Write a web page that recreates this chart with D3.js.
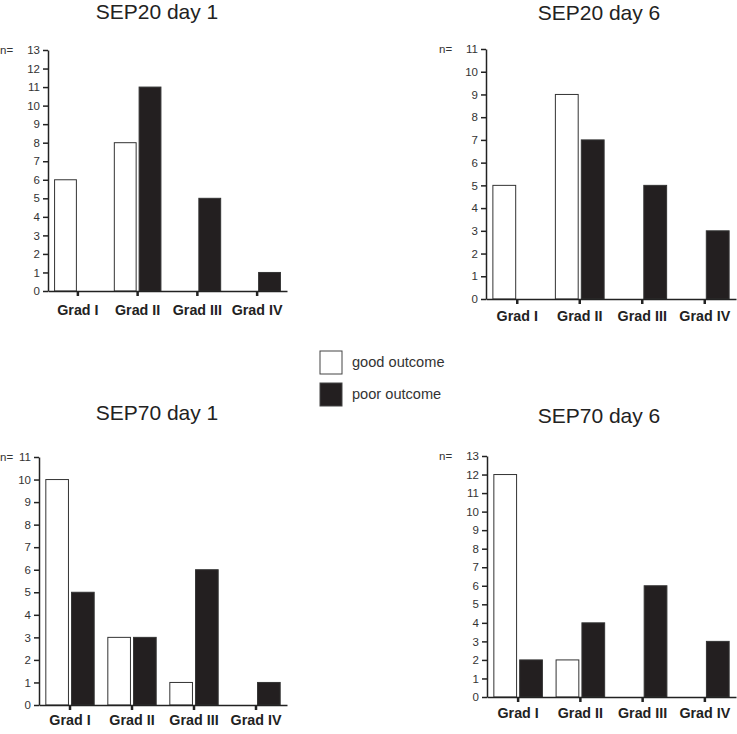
<!DOCTYPE html>
<html>
<head>
<meta charset="utf-8">
<script src="https://cdn.jsdelivr.net/npm/d3@7"></script>
<style>
  body { margin: 0; background: #fff; }
  text { font-family: "Liberation Sans", Arial, sans-serif; }
</style>
</head>
<body>
<svg id="chart" width="737" height="734"></svg>
<script>
// categories and series
var grades = ['Grad I', 'Grad II', 'Grad III', 'Grad IV'];
var seriesNames = ['good outcome', 'poor outcome'];

var titles = ['SEP20 day 1', 'SEP20 day 6', 'SEP70 day 1', 'SEP70 day 6'];
var yMax = [13, 11, 11, 13];

// n per grade, good / poor outcome
var sep20d1Good = [6, 8, 0, 0];
var sep20d1Poor = [0, 11, 5, 1];
var sep20d6Good = [5, 9, 0, 0];
var sep20d6Poor = [0, 7, 5, 3];
var sep70d1Good = [10, 3, 1, 0];
var sep70d1Poor = [5, 3, 6, 1];
var sep70d6Good = [12, 2, 0, 0];
var sep70d6Poor = [2, 4, 6, 3];

var goodSets = [sep20d1Good, sep20d6Good, sep70d1Good, sep70d6Good];
var poorSets = [sep20d1Poor, sep20d6Poor, sep70d1Poor, sep70d6Poor];

// where each panel sits on the page
var panels = [
  { ax: 48,  x1: 287, y0: 291, yt: 50,  tx: 157, ty: 19,  nx: 0,   lab: 315 },
  { ax: 486, x1: 736, y0: 299, yt: 49,  tx: 599, ty: 20,  nx: 439, lab: 321 },
  { ax: 39,  x1: 287, y0: 705, yt: 457, tx: 157, ty: 420, nx: 0,   lab: 725 },
  { ax: 487, x1: 736, y0: 697, yt: 456, tx: 599, ty: 423, nx: 439, lab: 718 }
];

var fills = { 'good outcome': '#ffffff', 'poor outcome': '#231f20' };

var svg = d3.select('#chart');

panels.forEach(function(p, k) {
  var g = svg.append('g');

  var x = d3.scaleBand().domain(grades).range([p.ax, p.x1]);
  var bw = x.bandwidth();
  var xs = d3.scaleBand().domain(seriesNames)
    .range([bw * 0.11, bw * 0.89]).paddingInner(0.12);
  var y = d3.scaleLinear().domain([0, yMax[k]]).range([p.y0, p.yt]);

  var rows = grades.map(function(gr, i) {
    return { grade: gr, vals: [
      { s: seriesNames[0], v: goodSets[k][i] },
      { s: seriesNames[1], v: poorSets[k][i] }
    ] };
  });

  // bars
  g.selectAll('g.grp').data(rows).enter().append('g')
    .attr('transform', function(d) { return 'translate(' + x(d.grade) + ',0)'; })
    .selectAll('rect').data(function(d) { return d.vals; }).enter().append('rect')
    .attr('x', function(d) { return xs(d.s); })
    .attr('width', xs.bandwidth())
    .attr('y', function(d) { return y(d.v); })
    .attr('height', function(d) { return y(0) - y(d.v); })
    .attr('fill', function(d) { return fills[d.s]; })
    .attr('stroke', '#333')
    .attr('stroke-width', 1);

  // y axis
  var ya = g.append('g')
    .attr('transform', 'translate(' + p.ax + ',0)')
    .call(d3.axisLeft(y).ticks(yMax[k]).tickSize(5).tickPadding(3).tickSizeOuter(0));
  ya.select('.domain').attr('stroke', '#222').attr('stroke-width', 1.5);
  ya.selectAll('.tick line').attr('stroke', '#222').attr('stroke-width', 1.5);
  ya.selectAll('.tick text').attr('fill', '#333').style('font-size', '11.5px');

  // x axis
  var xa = g.append('g')
    .attr('transform', 'translate(0,' + p.y0 + ')')
    .call(d3.axisBottom(x).tickSize(5).tickSizeOuter(0).tickFormat(''));
  xa.select('.domain').attr('stroke', '#222').attr('stroke-width', 1.5);
  xa.selectAll('.tick line').attr('stroke', '#222').attr('stroke-width', 2.5);

  g.selectAll('text.glab').data(grades).enter().append('text')
    .attr('x', function(d) { return x(d) + bw / 2; })
    .attr('y', p.lab)
    .attr('text-anchor', 'middle')
    .style('font-size', '14.3px')
    .style('font-weight', 'bold')
    .attr('fill', '#222')
    .text(function(d) { return d; });

  g.append('text')
    .attr('x', p.tx).attr('y', p.ty)
    .attr('text-anchor', 'middle')
    .style('font-size', '21px')
    .attr('fill', '#222')
    .text(titles[k]);

  g.append('text')
    .attr('x', p.nx).attr('y', p.yt + 4)
    .style('font-size', '11.5px')
    .attr('fill', '#333')
    .text('n=');
});

// legend
var leg = svg.append('g').attr('transform', 'translate(320,351)');
seriesNames.forEach(function(s, i) {
  leg.append('rect')
    .attr('x', 0).attr('y', i * 32)
    .attr('width', 22).attr('height', 23)
    .attr('fill', fills[s])
    .attr('stroke', '#444').attr('stroke-width', 1);
  leg.append('text')
    .attr('x', 32).attr('y', i * 32 + 16)
    .style('font-size', '14.6px')
    .attr('fill', '#333')
    .text(s);
});
</script>
</body>
</html>
